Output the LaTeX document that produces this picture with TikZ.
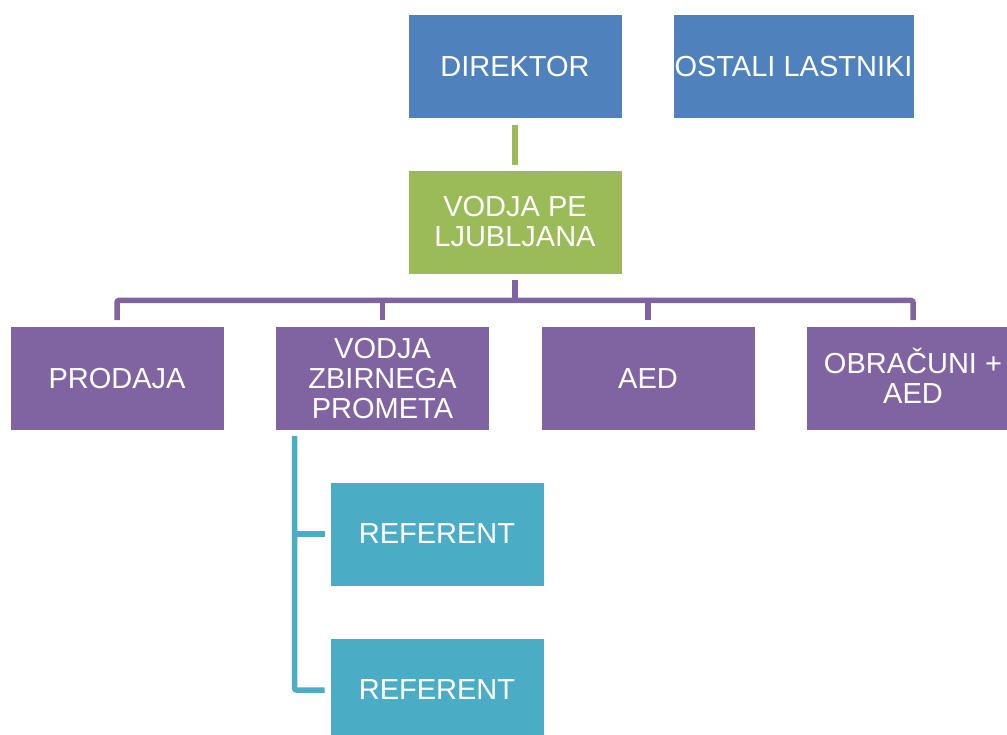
\documentclass[tikz,border=0pt]{standalone}
\usepackage{fontspec}
\setmainfont{Liberation Sans}
\definecolor{boxblue}{HTML}{4F81BD}
\definecolor{boxgreen}{HTML}{9BBB59}
\definecolor{boxpurple}{HTML}{8064A2}
\definecolor{boxcyan}{HTML}{4BACC6}
\begin{document}
\begin{tikzpicture}[x=1pt,y=-1pt,
  orgbox/.style={rectangle, draw=white, line width=0.6pt, inner sep=0pt,
    minimum width=214pt, minimum height=104pt, align=center, text=white,
    font=\fontsize{29}{30}\selectfont},
  bluebox/.style={orgbox, fill=boxblue},
  greenbox/.style={orgbox, fill=boxgreen},
  purplebox/.style={orgbox, fill=boxpurple},
  cyanbox/.style={orgbox, fill=boxcyan},
  link/.style={line width=5.5pt, rounded corners=2pt}]
\useasboundingbox (0,0) rectangle (1007,735);
\clip (0,0) rectangle (1007,735);

% top row
\node[bluebox] (dir) at (515,66.5) {DIREKTOR};
\node[bluebox, minimum width=241pt] (ostali) at (793.5,66.5) {OSTALI LASTNIKI};

% unit head
\node[greenbox] (pe) at (515,222) {VODJA PE\\LJUBLJANA};

% departments
\node[purplebox] (prodaja) at (117,378.5) {PRODAJA};
\node[purplebox] (zbirni) at (382.5,378.5) {VODJA\\ZBIRNEGA\\PROMETA};
\node[purplebox] (aed) at (648,378.5) {AED};
\node[purplebox] (obracuni) at (913,378.5) {\raisebox{0pt}[0.72em][0pt]{OBRAČUNI +}\\AED};

% staff
\node[cyanbox] (ref1) at (437,534) {REFERENT};
\node[cyanbox] (ref2) at (437,690) {REFERENT};

% director to unit head
\draw[link, boxgreen] ([yshift=-6pt]dir.south) -- ([yshift=5pt]pe.north);

% unit head to departments
\coordinate (bus) at (515,300.5);
\draw[link, boxpurple] ([yshift=-6pt]pe.south) -- (bus);
\draw[link, boxpurple] ([yshift=6pt]prodaja.north) |- (bus) -| ([yshift=6pt]obracuni.north);
\draw[link, boxpurple] ([yshift=6pt]zbirni.north) -- (zbirni.north |- bus);
\draw[link, boxpurple] ([yshift=6pt]aed.north) -- (aed.north |- bus);

% department head to staff
\coordinate (spine) at (294.5,436);
\draw[link, boxcyan] ([xshift=-5pt]ref2.west) -| (spine);
\draw[link, boxcyan] ([xshift=-5pt]ref1.west) -- (spine |- ref1.west);
\end{tikzpicture}
\end{document}
